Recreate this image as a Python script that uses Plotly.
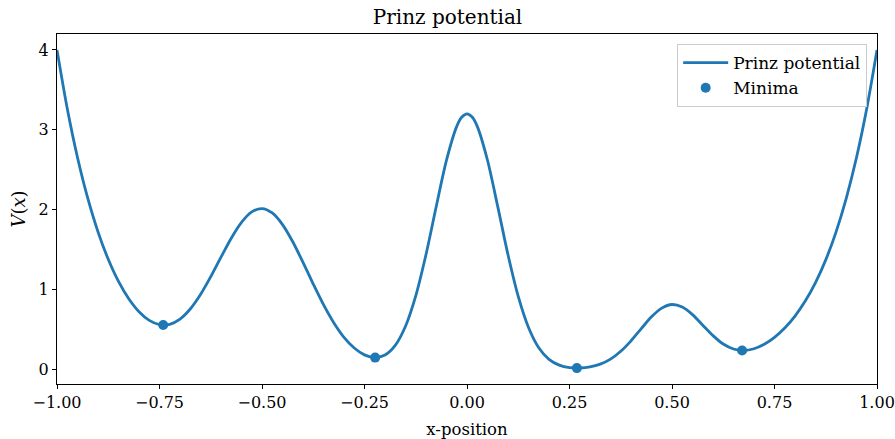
import plotly.graph_objects as go

x_vals = [-1.000, -0.975, -0.950, -0.925, -0.900, -0.875, -0.850, -0.825, -0.800, -0.775,
          -0.750, -0.725, -0.700, -0.675, -0.650, -0.625, -0.600, -0.575, -0.550, -0.525,
          -0.500, -0.475, -0.450, -0.425, -0.400, -0.375, -0.350, -0.325, -0.300, -0.275,
          -0.250, -0.225, -0.200, -0.175, -0.150, -0.125, -0.100, -0.075, -0.050, -0.025,
          -0.0125, 0.000, 0.0125,
          0.025, 0.050, 0.075, 0.100, 0.125, 0.150, 0.175, 0.200, 0.225,
          0.250, 0.275, 0.300, 0.325, 0.350, 0.375, 0.400, 0.425, 0.450, 0.475,
          0.500, 0.525, 0.550, 0.575, 0.600, 0.625, 0.650, 0.675, 0.700, 0.725,
          0.750, 0.775, 0.800, 0.825, 0.850, 0.875, 0.900, 0.925, 0.950, 0.975, 1.000]
v_vals = [4.000, 3.267, 2.654, 2.145, 1.725, 1.382, 1.105, 0.888, 0.726, 0.618,
          0.565, 0.569, 0.634, 0.760, 0.941, 1.164, 1.408, 1.645, 1.843, 1.974,
          2.016, 1.961, 1.816, 1.601, 1.343, 1.072, 0.814, 0.589, 0.406, 0.272,
          0.186, 0.153, 0.185, 0.305, 0.544, 0.924, 1.441, 2.042, 2.621, 3.044,
          3.160, 3.200, 3.160,
          3.044, 2.620, 2.040, 1.438, 0.917, 0.529, 0.276, 0.131, 0.058,
          0.027, 0.022, 0.035, 0.070, 0.133, 0.231, 0.362, 0.514, 0.662, 0.771,
          0.816, 0.784, 0.689, 0.558, 0.427, 0.322, 0.260, 0.241, 0.263, 0.319,
          0.406, 0.523, 0.672, 0.859, 1.090, 1.374, 1.722, 2.144, 2.654, 3.267, 4.000]

min_x = [-0.741, -0.224, 0.268, 0.671]
min_v = [0.559, 0.152, 0.021, 0.241]

x_ticks = [-1.0, -0.75, -0.5, -0.25, 0.0, 0.25, 0.5, 0.75, 1.0]
x_tick_labels = ["\u22121.00", "\u22120.75", "\u22120.50", "\u22120.25", "0.00", "0.25", "0.50", "0.75", "1.00"]
y_ticks = [0, 1, 2, 3, 4]

blue = "#1f77b4"
font_family = "DejaVu Serif, serif"

fig = go.Figure()
fig.add_trace(go.Scatter(x=x_vals, y=v_vals, mode="lines", name="Prinz potential",
                         line=dict(color=blue, width=2.8, shape="spline", smoothing=0.8)))
fig.add_trace(go.Scatter(x=min_x, y=min_v, mode="markers", name="Minima",
                         marker=dict(color=blue, size=10)))

axis_common = dict(showline=True, linecolor="black", linewidth=1, mirror=True,
                   ticks="outside", ticklen=4, tickcolor="black", showgrid=False,
                   zeroline=False, automargin=False, ticklabeloverflow="allow",
                   tickfont=dict(size=16, color="black", family=font_family))

fig.update_layout(
    width=895, height=439,
    margin=dict(l=57, r=18, t=34, b=55, autoexpand=False),
    paper_bgcolor="white", plot_bgcolor="white",
    font=dict(family=font_family, size=16, color="black"),
    title=dict(text="Prinz potential", x=0.5, xanchor="center", y=0.962, yanchor="middle",
               font=dict(size=20, family=font_family, color="black"), automargin=False),
    xaxis=dict(range=[-1, 1], tickvals=x_ticks, ticktext=x_tick_labels,
               title=dict(text="x-position", font=dict(size=16.5), standoff=12), **axis_common),
    yaxis=dict(range=[-0.178, 4.199], tickvals=y_ticks,
               title=dict(text="<i>V</i>(<i>x</i>)", font=dict(size=18), standoff=8), **axis_common),
    legend=dict(x=0.988, y=0.971, xanchor="right", yanchor="top",
                bgcolor="rgba(255,255,255,0.8)", bordercolor="#cccccc", borderwidth=1,
                font=dict(size=17, family=font_family), itemwidth=45, tracegroupgap=4),
    showlegend=True,
)

fig.write_html("out.html", config={"displayModeBar": False},
               post_script="document.body.style.margin='0';document.body.style.overflow='hidden';")
